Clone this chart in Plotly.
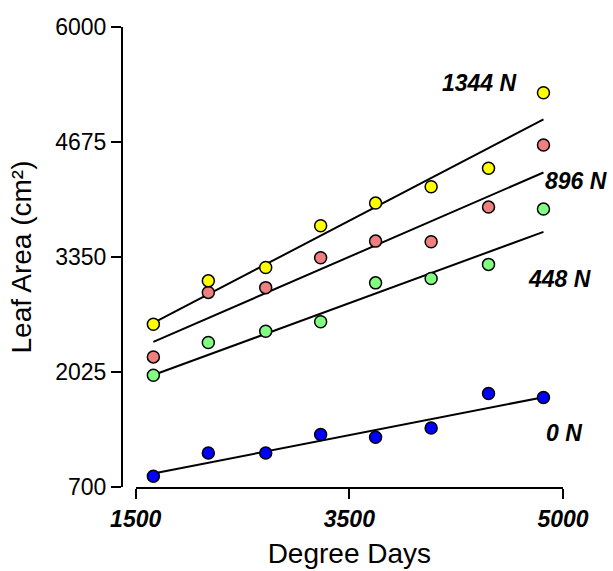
import plotly.graph_objects as go

# Sampling dates (degree days)
degree_days = [1645, 2095, 2565, 3015, 3465, 3920, 4390, 4840]

# Leaf area (cm²) per nitrogen rate
leaf_0n = [823, 1092, 1092, 1304, 1273, 1380, 1777, 1731]
leaf_448n = [1988, 2365, 2495, 2603, 3052, 3103, 3265, 3902]
leaf_896n = [2199, 2942, 2997, 3341, 3533, 3525, 3925, 4640]
leaf_1344n = [2576, 3075, 3230, 3710, 3971, 4159, 4372, 5243]

# Regression line end points for each rate
fit_x = [1645, 4840]
fit_0n = [855, 1735]
fit_448n = [1990, 3640]
fit_896n = [2372, 4324]
fit_1344n = [2590, 4935]

series_names = ["0 N", "448 N", "896 N", "1344 N"]
series_colors = ["#0000FF", "#80FF80", "#F08080", "#FFFF00"]

# Label anchor points (data coordinates)
label_x = [5007, 4969, 5109, 4314]
label_y = [1323, 3095, 4229, 5355]

# Axis ranges and ticks
x_range = [1500, 5000]
y_range = [700, 6000]
x_tickvals = [1500, 3250, 5000]
x_ticktext = ["1500", "3500", "5000"]
y_tickvals = [700, 2025, 3350, 4675, 6000]

FONT = "Liberation Sans, Arial, sans-serif"

fig = go.Figure()

points = [leaf_0n, leaf_448n, leaf_896n, leaf_1344n]
fits = [fit_0n, fit_448n, fit_896n, fit_1344n]

for fit in fits:
    fig.add_trace(go.Scatter(
        x=fit_x, y=fit, mode="lines",
        line=dict(color="black", width=2),
        hoverinfo="skip", showlegend=False, cliponaxis=False,
    ))

for vals, color in zip(points, series_colors):
    fig.add_trace(go.Scatter(
        x=degree_days, y=vals, mode="markers",
        marker=dict(size=12, color=color, line=dict(color="black", width=1.5)),
        showlegend=False, cliponaxis=False,
    ))

# Series labels: placed relative to the axis domains so those past the
# x-axis end are still drawn
for name, lx, ly in zip(series_names, label_x, label_y):
    fig.add_annotation(
        x=(lx - x_range[0]) / (x_range[1] - x_range[0]),
        y=(ly - y_range[0]) / (y_range[1] - y_range[0]),
        xref="x domain", yref="y domain",
        text=f"<b><i>{name}</i></b>",
        showarrow=False, xanchor="center", yanchor="middle",
        font=dict(family=FONT, size=23, color="black"),
    )

fig.update_layout(
    width=613, height=571,
    margin=dict(l=122, r=50, t=27, b=84),
    paper_bgcolor="white", plot_bgcolor="white",
    font=dict(family=FONT, color="black"),
    xaxis=dict(
        domain=[0.031, 1], range=x_range, automargin=False,
        tickvals=x_tickvals,
        ticktext=[f"<b><i>{t}</i></b>" for t in x_ticktext],
        tickfont=dict(family=FONT, size=23, color="black"),
        showline=True, linecolor="black", linewidth=2,
        ticks="outside", ticklen=10, tickwidth=2, tickcolor="black",
        showgrid=False, zeroline=False,
        title=dict(text="Degree Days", font=dict(family=FONT, size=28, color="black"),
                   standoff=13),
    ),
    yaxis=dict(
        range=y_range, anchor="free", position=0, automargin=False,
        tickvals=y_tickvals,
        tickfont=dict(family=FONT, size=23, color="black"),
        showline=True, linecolor="black", linewidth=2,
        ticks="outside", ticklen=10, tickwidth=2, tickcolor="black",
        showgrid=False, zeroline=False,
        title=dict(text="Leaf Area (cm²)", font=dict(family=FONT, size=28, color="black"),
                   standoff=14),
    ),
)

fig.write_html("out.html")
